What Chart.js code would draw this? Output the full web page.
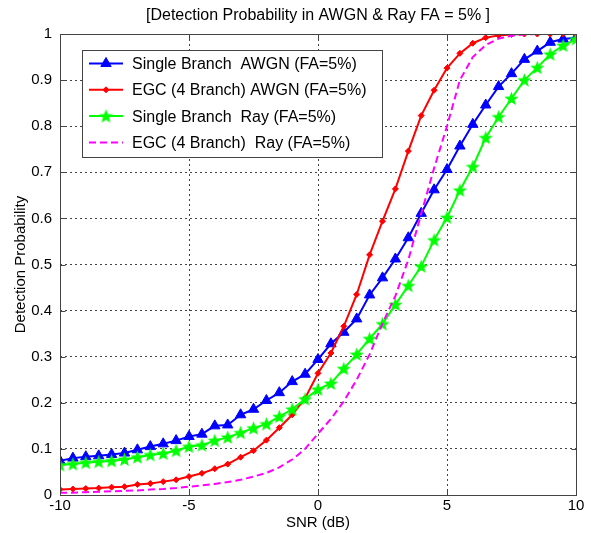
<!DOCTYPE html>
<html>
<head>
<meta charset="utf-8">
<script src="https://cdn.jsdelivr.net/npm/chart.js@4/dist/chart.umd.min.js"></script>
<style>
html, body { margin: 0; padding: 0; background: #fff; }
#wrap { width: 591px; height: 533px; }
</style>
</head>
<body>
<div id="wrap"><canvas id="detChart" width="591" height="533"></canvas></div>
<script>
var snr = [-10, -9.5, -9, -8.5, -8, -7.5, -7, -6.5, -6, -5.5, -5, -4.5, -4, -3.5, -3, -2.5, -2, -1.5, -1, -0.5,
    0, 0.5, 1, 1.5, 2, 2.5, 3, 3.5, 4, 4.5, 5, 5.5, 6, 6.5, 7, 7.5, 8, 8.5, 9, 9.5, 10];
var singleAwgn = [0.074, 0.080, 0.083, 0.085, 0.088, 0.091, 0.098, 0.105, 0.111, 0.118, 0.127, 0.132, 0.150, 0.152,
    0.174, 0.186, 0.205, 0.222, 0.246, 0.262, 0.294, 0.328, 0.353, 0.382, 0.434, 0.471, 0.512, 0.558, 0.611, 0.662,
    0.706, 0.757, 0.804, 0.846, 0.886, 0.914, 0.945, 0.963, 0.982, 0.989, 0.992];
var egcAwgn = [0.012, 0.013, 0.014, 0.015, 0.017, 0.018, 0.023, 0.025, 0.029, 0.033, 0.040, 0.047, 0.057, 0.067,
    0.082, 0.096, 0.119, 0.146, 0.174, 0.210, 0.264, 0.308, 0.366, 0.435, 0.521, 0.594, 0.664, 0.746, 0.823, 0.878,
    0.926, 0.958, 0.980, 0.992, 0.997, 0.999, 1.0, 1.0, 1.0, 1.0, 1.0];
var singleRay = [0.065, 0.067, 0.070, 0.072, 0.074, 0.077, 0.082, 0.087, 0.090, 0.096, 0.105, 0.108, 0.118, 0.125,
    0.135, 0.145, 0.154, 0.170, 0.186, 0.208, 0.229, 0.242, 0.274, 0.305, 0.339, 0.371, 0.413, 0.454, 0.496, 0.553,
    0.602, 0.661, 0.712, 0.775, 0.820, 0.860, 0.900, 0.927, 0.956, 0.975, 0.989];
var egcRay = [0.005, 0.005, 0.006, 0.007, 0.008, 0.009, 0.010, 0.012, 0.013, 0.015, 0.018, 0.021, 0.024, 0.028,
    0.033, 0.040, 0.048, 0.060, 0.077, 0.100, 0.133, 0.165, 0.203, 0.250, 0.305, 0.372, 0.432, 0.510, 0.610, 0.709,
    0.800, 0.900, 0.950, 0.976, 0.990, 0.996, 0.999, 1.0, 1.0, 1.0, 1.0];
var seriesNames = ["Single Branch  AWGN (FA=5%)", "EGC (4 Branch) AWGN (FA=5%)",
    "Single Branch  Ray (FA=5%)", "EGC (4 Branch)  Ray (FA=5%)"];
var xTicks = [-10, -5, 0, 5, 10];
var yTicks = [0, 0.1, 0.2, 0.3, 0.4, 0.5, 0.6, 0.7, 0.8, 0.9, 1];
var chartTitle = "[Detection Probability in AWGN & Ray FA = 5% ]";

var FONT = "Arial, 'Liberation Sans', sans-serif";

// filled pentagram like matlab 'p'
function makeStar(size, color) {
    var c = document.createElement("canvas");
    c.width = size; c.height = size;
    var g = c.getContext("2d");
    var cx = size / 2, cy = size / 2 + 0.5, ro = size / 2, ri = ro * 0.42;
    g.beginPath();
    for (var i = 0; i < 10; i++) {
        var r = i % 2 ? ri : ro;
        var a = -Math.PI / 2 + i * Math.PI / 5;
        g.lineTo(cx + r * Math.cos(a), cy + r * Math.sin(a));
    }
    g.closePath();
    g.fillStyle = color;
    g.fill();
    return c;
}
var greenStar = makeStar(15, "#00ff00");

function toPoints(ys) {
    return ys.map(function(v, i) { return {x: snr[i], y: v}; });
}

// box round the plot, inward ticks, title
var framePlugin = {
    id: "frame",
    afterDraw: function(chart) {
        var ctx = chart.ctx, a = chart.chartArea;
        var sx = chart.scales.x, sy = chart.scales.y;
        ctx.save();
        ctx.strokeStyle = "#444";
        ctx.lineWidth = 1;
        var L = Math.round(a.left) + 0.5, T = Math.round(a.top) + 0.5;
        var R = Math.round(a.right) + 0.5, B = Math.round(a.bottom) + 0.5;
        ctx.strokeRect(L, T, R - L, B - T);
        ctx.beginPath();
        xTicks.forEach(function(v) {
            var px = Math.round(sx.getPixelForValue(v)) + 0.5;
            ctx.moveTo(px, B); ctx.lineTo(px, B - 5);
            ctx.moveTo(px, T); ctx.lineTo(px, T + 5);
        });
        yTicks.forEach(function(v) {
            var py = Math.round(sy.getPixelForValue(v)) + 0.5;
            ctx.moveTo(L, py); ctx.lineTo(L + 5, py);
            ctx.moveTo(R, py); ctx.lineTo(R - 5, py);
        });
        ctx.stroke();
        ctx.fillStyle = "#000";
        ctx.font = "16px " + FONT;
        ctx.textAlign = "center";
        ctx.textBaseline = "middle";
        ctx.fillText(chartTitle, (a.left + a.right) / 2, 16);
        ctx.restore();
    }
};

// legend drawn inside the axes, top left
var legendPlugin = {
    id: "boxLegend",
    afterDraw: function(chart) {
        var ctx = chart.ctx;
        var x0 = 82, y0 = 50, w = 300, h = 107;
        ctx.save();
        ctx.fillStyle = "#fff";
        ctx.fillRect(x0, y0, w, h);
        ctx.strokeStyle = "#444";
        ctx.lineWidth = 1;
        ctx.strokeRect(x0 + 0.5, y0 + 0.5, w, h);
        ctx.font = "16px " + FONT;
        ctx.textBaseline = "middle";
        ctx.textAlign = "left";
        chart.data.datasets.forEach(function(ds, i) {
            var y = 63.5 + i * 26.3;
            ctx.strokeStyle = ds.borderColor;
            ctx.lineWidth = ds.borderWidth;
            ctx.setLineDash(ds.borderDash || []);
            ctx.beginPath();
            ctx.moveTo(89, y);
            ctx.lineTo(123, y);
            ctx.stroke();
            ctx.setLineDash([]);
            if (ds.pointRadius > 0) {
                ctx.fillStyle = ds.backgroundColor;
                ctx.lineWidth = 1;
                Chart.helpers.drawPoint(ctx, {
                    pointStyle: ds.pointStyle,
                    radius: ds.pointRadius,
                    borderWidth: 1,
                    rotation: 0
                }, 106, y);
            }
            ctx.fillStyle = "#000";
            ctx.fillText(seriesNames[i], 132, y + 1);
        });
        ctx.restore();
    }
};

var ctx = document.getElementById("detChart").getContext("2d");
var chart = new Chart(ctx, {
    type: "line",
    data: {
        datasets: [{
            label: seriesNames[0],
            data: toPoints(singleAwgn),
            borderColor: "#0000ff",
            backgroundColor: "#0000ff",
            borderWidth: 2,
            pointStyle: "triangle",
            pointRadius: 6,
            pointBorderWidth: 1,
            order: 4
        }, {
            label: seriesNames[1],
            data: toPoints(egcAwgn),
            borderColor: "#ff0000",
            backgroundColor: "#ff0000",
            borderWidth: 2,
            pointStyle: "rectRot",
            pointRadius: 3,
            pointBorderWidth: 1,
            order: 3
        }, {
            label: seriesNames[2],
            data: toPoints(singleRay),
            borderColor: "#00ff00",
            backgroundColor: "#00ff00",
            borderWidth: 2,
            pointStyle: greenStar,
            pointRadius: 7,
            order: 2
        }, {
            label: seriesNames[3],
            data: toPoints(egcRay),
            borderColor: "#ff00ff",
            backgroundColor: "#ff00ff",
            borderWidth: 2,
            borderDash: [7, 4],
            pointRadius: 0,
            order: 1
        }]
    },
    options: {
        responsive: false,
        animation: false,
        events: [],
        layout: { padding: { left: 0, right: 15, top: 34, bottom: 0 } },
        plugins: {
            legend: { display: false },
            title: { display: false },
            tooltip: { enabled: false }
        },
        scales: {
            x: {
                type: "linear",
                min: -10,
                max: 10,
                afterFit: function(s) { s.height = 38; },
                afterBuildTicks: function(s) { s.ticks = xTicks.map(function(v) { return {value: v}; }); },
                ticks: {
                    color: "#000",
                    padding: 2,
                    font: { family: FONT, size: 15 }
                },
                grid: { color: "#444", lineWidth: 1, drawTicks: false },
                border: { display: false, dash: [2, 3] },
                title: {
                    display: true,
                    text: "SNR (dB)",
                    color: "#000",
                    padding: { top: 0, bottom: 1 },
                    font: { family: FONT, size: 15 }
                }
            },
            y: {
                min: 0,
                max: 1,
                afterFit: function(s) { s.width = 60; },
                afterBuildTicks: function(s) { s.ticks = yTicks.map(function(v) { return {value: v}; }); },
                ticks: {
                    color: "#000",
                    padding: 8,
                    font: { family: FONT, size: 15 },
                    callback: function(v) { return v + ""; }
                },
                grid: { color: "#444", lineWidth: 1, drawTicks: false },
                border: { display: false, dash: [2, 3] },
                title: {
                    display: true,
                    text: "Detection Probability",
                    color: "#000",
                    padding: { top: 12, bottom: 0 },
                    font: { family: FONT, size: 15 }
                }
            }
        }
    },
    plugins: [framePlugin, legendPlugin]
});
</script>
</body>
</html>
